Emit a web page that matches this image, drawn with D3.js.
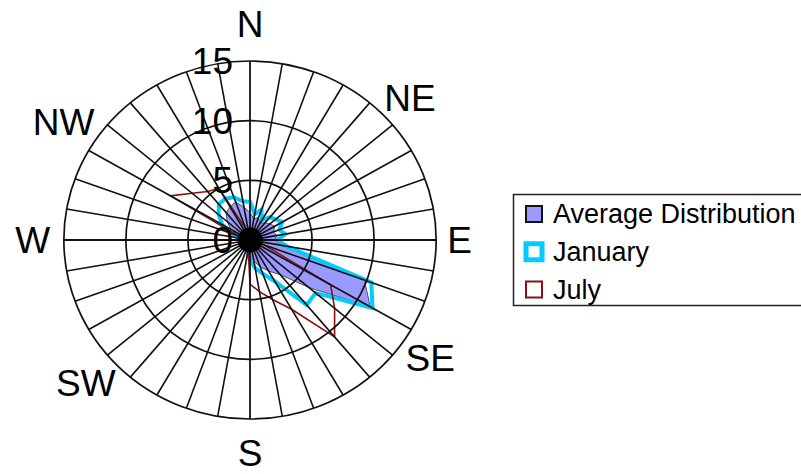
<!doctype html>
<html>
<head>
<meta charset="utf-8">
<script src="https://d3js.org/d3.v7.min.js"></script>
<style>
  body { margin: 0; padding: 0; background: #fff; }
  svg { display: block; font-family: "Liberation Sans", Arial, sans-serif; }
</style>
</head>
<body>
<script>
// directions every 10 degrees, clockwise from north
const directions = d3.range(0, 360, 10);

// % of time
const average = [2.3, 1.8, 2.0, 1.6, 1.9, 2.1, 2.3, 2.0, 2.2, 2.0, 2.5, 9.8,
                 11.2, 6.2, 3.8, 3.0, 2.4, 1.8, 1.5, 1.0, 0.8, 0.7, 0.7, 0.6,
                 0.6, 0.6, 0.7, 0.7, 0.8, 1.0, 1.8, 2.4, 3.0, 3.2, 3.4, 2.8];
const january = [3.2, 2.2, 2.7, 1.9, 2.5, 2.7, 3.0, 2.5, 2.9, 2.2, 3.0, 10.4,
                 11.4, 6.9, 7.1, 4.0, 3.0, 2.4, 1.7, 1.1, 0.9, 0.8, 0.8, 0.7,
                 0.7, 0.7, 0.8, 0.8, 1.0, 1.6, 2.6, 3.3, 3.9, 4.0, 3.8, 3.3];
const july = [0.8, 0.6, 0.5, 0.5, 0.5, 0.5, 0.5, 0.5, 0.5, 0.6, 0.8, 1.2,
              7.5, 8.9, 10.6, 6.7, 5.3, 4.4, 3.7, 0.8, 0.5, 0.5, 0.5, 0.5,
              0.5, 0.5, 0.5, 0.5, 0.5, 1.0, 7.4, 6.1, 5.3, 5.0, 1.0, 0.8];

const ringTicks = [5, 10, 15];
const tickLabels = [0, 5, 10, 15];
const compass = [
  { name: "N", angle: 0, dist: 17.0 },
  { name: "NE", angle: 45, dist: 15.3 },
  { name: "E", angle: 90, dist: 15.9 },
  { name: "SE", angle: 125, dist: 15.3 },
  { name: "S", angle: 180, dist: 16.75 },
  { name: "SW", angle: 225, dist: 15.3 },
  { name: "W", angle: 270, dist: 16.1 },
  { name: "NW", angle: 305, dist: 15.3 }
];
const seriesNames = ["Average Distribution", "January", "July"];

const width = 801, height = 474;
const cx = 250, cy = 240, kx = 1.04;

const svg = d3.select("body").append("svg")
  .attr("width", width).attr("height", height);

const r = d3.scaleLinear().domain([0, 15]).range([0, 179]);

function pt(deg, v) {
  const a = deg * Math.PI / 180;
  return [cx + r(v) * Math.sin(a) * kx, cy - r(v) * Math.cos(a)];
}

const line = d3.line().curve(d3.curveLinearClosed);
const toPts = vals => vals.map((v, i) => pt(directions[i], v));

// data first, grid goes on top of it
svg.append("path")
  .attr("d", line(toPts(average)))
  .attr("fill", "#9999ff")
  .attr("stroke", "#333")
  .attr("stroke-width", 0.8);

svg.append("path")
  .attr("d", line(toPts(january)))
  .attr("fill", "none")
  .attr("stroke", "#00ccff")
  .attr("stroke-width", 4)
  .attr("stroke-linejoin", "miter");

svg.append("path")
  .attr("d", line(toPts(july)))
  .attr("fill", "none")
  .attr("stroke", "#8b1010")
  .attr("stroke-width", 1.6);

// grid
const grid = svg.append("g").attr("stroke", "#111").attr("fill", "none");
grid.selectAll("ellipse").data(ringTicks).enter().append("ellipse")
  .attr("cx", cx).attr("cy", cy)
  .attr("rx", d => r(d) * kx).attr("ry", d => r(d))
  .attr("stroke-width", 1.7);
grid.selectAll("line").data(directions).enter().append("line")
  .attr("x1", cx).attr("y1", cy)
  .attr("x2", d => pt(d, 15)[0]).attr("y2", d => pt(d, 15)[1])
  .attr("stroke-width", d => d % 90 === 0 ? 1.8 : 1.6);
svg.append("circle").attr("cx", cx).attr("cy", cy).attr("r", 12.5).attr("fill", "#000");

// radial tick labels
svg.selectAll(".tick").data(tickLabels).enter().append("text")
  .attr("class", "tick")
  .attr("x", cx - 17)
  .attr("y", d => cy - r(d) + 13)
  .attr("text-anchor", "end")
  .attr("font-size", 37)
  .text(d => d);

// compass labels
const capH = 37 * 0.716;
svg.selectAll(".dir").data(compass).enter().append("text")
  .attr("class", "dir")
  .attr("font-size", 37)
  .attr("text-anchor", d => {
    const s = Math.sin(d.angle * Math.PI / 180);
    return s > 0.1 ? "start" : s < -0.1 ? "end" : "middle";
  })
  .attr("x", d => pt(d.angle, d.dist)[0])
  .attr("y", d => {
    const c = Math.cos(d.angle * Math.PI / 180);
    const y = pt(d.angle, d.dist)[1];
    return c > 0.1 ? y : c < -0.1 ? y + capH : y + capH / 2;
  })
  .text(d => d.name);

// legend
const legend = svg.append("g");
legend.append("rect")
  .attr("x", 513.5).attr("y", 194.5).attr("width", 300).attr("height", 111)
  .attr("fill", "#fff").attr("stroke", "#222").attr("stroke-width", 1.5);

const rowY = d3.scalePoint().domain(seriesNames).range([223, 298.5]);
const swatch = [
  { fill: "#9999ff", stroke: "#111", sw: 2 },
  { fill: "#fff", stroke: "#00ccff", sw: 5 },
  { fill: "#fff", stroke: "#8b1010", sw: 2 }
];
seriesNames.forEach((name, i) => {
  const y = rowY(name);
  legend.append("rect")
    .attr("x", 526).attr("y", y - 17).attr("width", 16).attr("height", 16)
    .attr("fill", swatch[i].fill).attr("stroke", swatch[i].stroke)
    .attr("stroke-width", swatch[i].sw);
  legend.append("text")
    .attr("x", 553).attr("y", y)
    .attr("font-size", 27)
    .text(name);
});
</script>
</body>
</html>
